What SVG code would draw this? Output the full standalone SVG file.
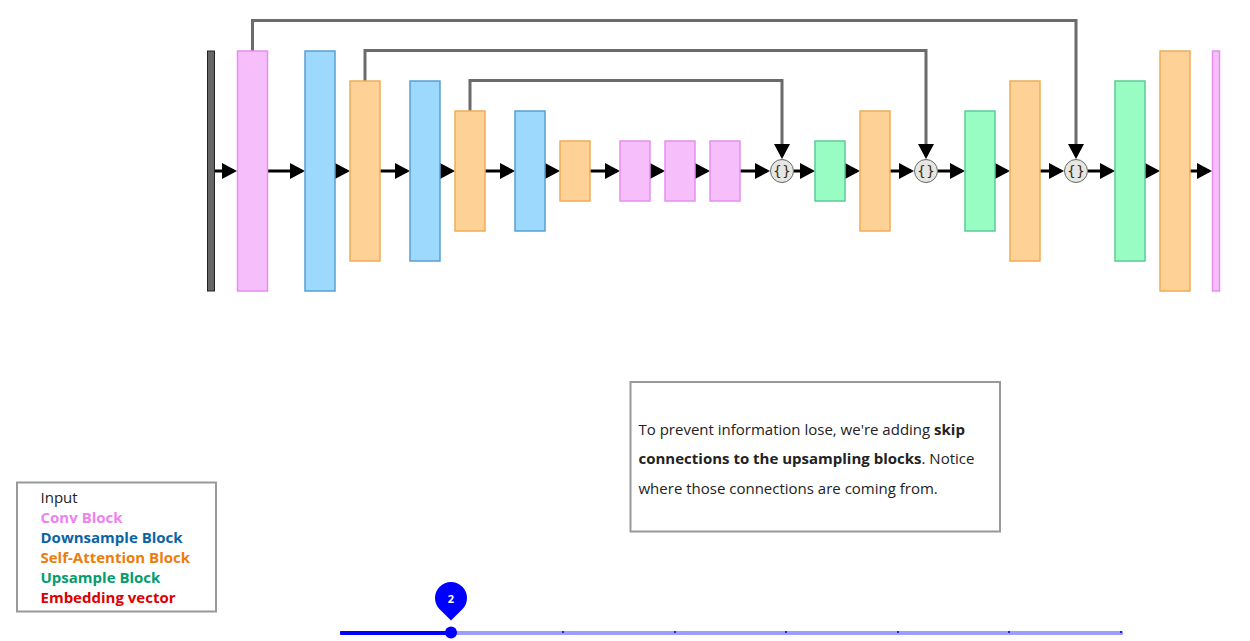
<svg xmlns="http://www.w3.org/2000/svg" width="1250" height="641" viewBox="0 0 1250 641">
<style>
.conv{fill:#f7befc;stroke:#e68ef0;stroke-width:1.5}
.down{fill:#9cd9fd;stroke:#5a9fd1;stroke-width:1.5}
.sa{fill:#fed196;stroke:#f0ad55;stroke-width:1.5}
.up{fill:#98fdc2;stroke:#5ccb98;stroke-width:1.5}
.inp{fill:#666;stroke:#222;stroke-width:1}
.main{stroke:#000;stroke-width:3;fill:none;marker-end:url(#ah)}
.skip{stroke:#6b6b6b;stroke-width:3;fill:none;marker-end:url(#ah)}
.cat{fill:#e6e6e2;stroke:#666;stroke-width:1}
.catt{font-family:"DejaVu Sans",sans-serif;font-size:14px;fill:#3a2a10;text-anchor:middle}
.leg{font-family:"Open Sans","Noto Sans",sans-serif;font-size:15px;font-weight:700}
.note{font-family:"Open Sans","Noto Sans",sans-serif;font-size:15px;fill:#222}
</style>
<defs>
<marker id="ah" markerUnits="userSpaceOnUse" viewBox="0 0 15 16" markerWidth="15" markerHeight="16" refX="12" refY="8" orient="auto">
<path d="M0,0 L15,8 L0,16 Z" fill="#000"/>
</marker>
</defs>
<g id="connectors">
<path class="main" d="M214.5,171 H234"/>
<path class="main" d="M268,171 H302"/>
<path class="main" d="M335,171 H347"/>
<path class="main" d="M380,171 H407"/>
<path class="main" d="M440,171 H452"/>
<path class="main" d="M485,171 H512"/>
<path class="main" d="M545,171 H557"/>
<path class="main" d="M590,171 H617"/>
<path class="main" d="M650,171 H662"/>
<path class="main" d="M695,171 H707"/>
<path class="main" d="M740,171 H767"/>
<path class="main" d="M794,171 H812"/>
<path class="main" d="M845,171 H857"/>
<path class="main" d="M890,171 H911"/>
<path class="main" d="M938,171 H962"/>
<path class="main" d="M995,171 H1007"/>
<path class="main" d="M1040,171 H1061"/>
<path class="main" d="M1088,171 H1112"/>
<path class="main" d="M1145,171 H1157"/>
<path class="main" d="M1190,171 H1209"/>
<path class="skip" d="M252.5,51 V20.5 H1076 V156"/>
<path class="skip" d="M365,81 V50.5 H926 V156"/>
<path class="skip" d="M470,111 V80.5 H782 V156"/>
</g>
<g id="input"><rect class="inp" x="207.5" y="51" width="7" height="240"/></g>
<g id="conv1"><rect class="conv" x="237.5" y="51" width="30" height="240"/></g>
<g id="down1"><rect class="down" x="305" y="51" width="30" height="240"/></g>
<g id="sa1"><rect class="sa" x="350" y="81" width="30" height="180"/></g>
<g id="down2"><rect class="down" x="410" y="81" width="30" height="180"/></g>
<g id="sa2"><rect class="sa" x="455" y="111" width="30" height="120"/></g>
<g id="down3"><rect class="down" x="515" y="111" width="30" height="120"/></g>
<g id="sa3"><rect class="sa" x="560" y="141" width="30" height="60"/></g>
<g id="conv2"><rect class="conv" x="620" y="141" width="30" height="60"/></g>
<g id="conv3"><rect class="conv" x="665" y="141" width="30" height="60"/></g>
<g id="conv4"><rect class="conv" x="710" y="141" width="30" height="60"/></g>
<g id="cat1"><circle class="cat" cx="782" cy="171" r="11.5"/><text class="catt" x="782" y="176">{}</text></g>
<g id="up1"><rect class="up" x="815" y="141" width="30" height="60"/></g>
<g id="sa4"><rect class="sa" x="860" y="111" width="30" height="120"/></g>
<g id="cat2"><circle class="cat" cx="926" cy="171" r="11.5"/><text class="catt" x="926" y="176">{}</text></g>
<g id="up2"><rect class="up" x="965" y="111" width="30" height="120"/></g>
<g id="sa5"><rect class="sa" x="1010" y="81" width="30" height="180"/></g>
<g id="cat3"><circle class="cat" cx="1076" cy="171" r="11.5"/><text class="catt" x="1076" y="176">{}</text></g>
<g id="up3"><rect class="up" x="1115" y="81" width="30" height="180"/></g>
<g id="sa6"><rect class="sa" x="1160" y="51" width="30" height="240"/></g>
<g id="conv5"><rect class="conv" x="1212.5" y="51" width="7" height="240"/></g>
<g id="legend">
<rect x="17" y="482.5" width="199" height="129" fill="#fff" stroke="#999" stroke-width="2"/>
<text class="leg" x="40.5" y="502.5" fill="#222" style="font-weight:500">Input</text>
<text class="leg" x="40.5" y="522.5" fill="#ee82ee">Conv Block</text>
<text class="leg" x="40.5" y="542.5" fill="#0a64a4">Downsample Block</text>
<text class="leg" x="40.5" y="562.5" fill="#ec7d0c">Self-Attention Block</text>
<text class="leg" x="40.5" y="582.5" fill="#049c6c">Upsample Block</text>
<text class="leg" x="40.5" y="602.5" fill="#dd0000">Embedding vector</text>
</g>
<g id="note">
<rect x="630.5" y="382" width="369.5" height="149.5" fill="#fff" stroke="#999" stroke-width="2"/>
<text class="note" x="638.5" y="434.5">To prevent information lose, we're adding <tspan font-weight="700">skip</tspan></text>
<text class="note" x="638.5" y="464"><tspan font-weight="700">connections to the upsampling blocks</tspan>. Notice</text>
<text class="note" x="638.5" y="493.5">where those connections are coming from.</text>
</g>
<g id="slider">
<rect x="340" y="631" width="783" height="4" fill="#9d9dff" rx="1"/>
<rect x="340" y="631" width="111" height="4" fill="#0000ff" rx="1"/>
<g fill="#2020ff">
<rect x="562" y="631" width="2" height="2"/>
<rect x="674" y="631" width="2" height="2"/>
<rect x="785" y="631" width="2" height="2"/>
<rect x="897" y="631" width="2" height="2"/>
<rect x="1008" y="631" width="2" height="2"/>
<rect x="1120" y="631" width="2" height="2"/>
</g>
<circle cx="451" cy="632.5" r="6" fill="#0000ff"/>
<path d="M451,620.6 L439.69,609.31 A16,16 0 1 1 462.31,609.31 Z" fill="#0000ff"/>
<text x="451" y="602.5" font-family="Open Sans,Noto Sans,sans-serif" font-size="11" font-weight="700" fill="#fff" text-anchor="middle">2</text>
</g>
</svg>
